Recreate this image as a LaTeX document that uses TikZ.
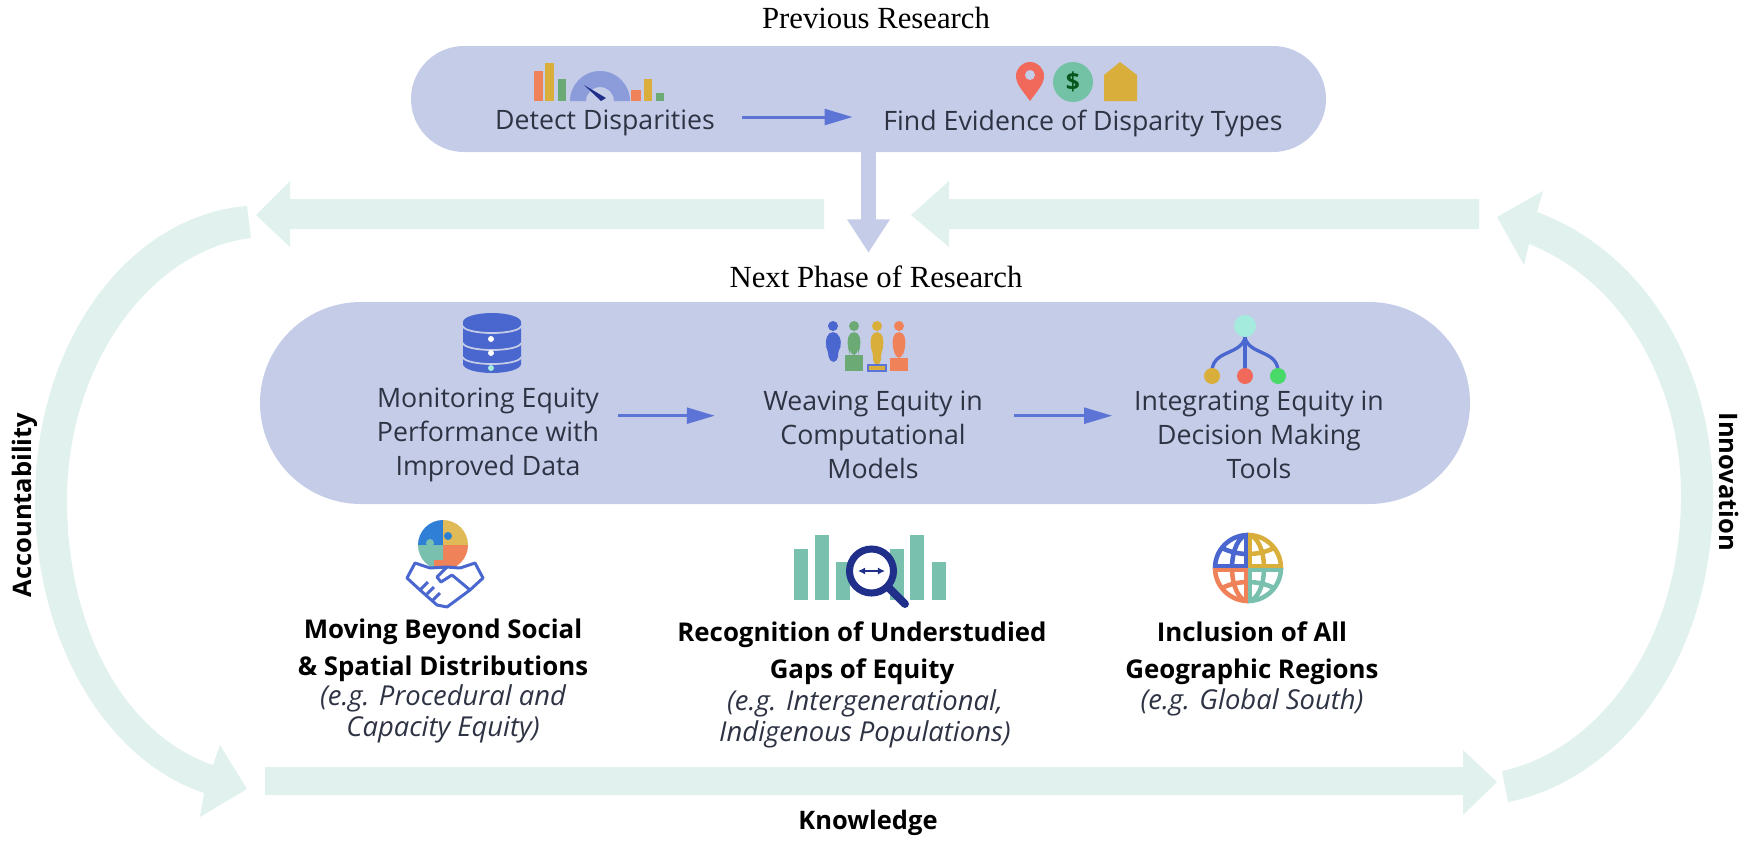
\documentclass[tikz,border=0pt]{standalone}
\usepackage{fontspec}
\setmainfont{Open Sans}
\newfontfamily\headfont{Liberation Serif}
\usetikzlibrary{arrows.meta,shapes.misc}

\definecolor{pillcol}{HTML}{C5CCE8}
\definecolor{palecol}{HTML}{E1F1EE}
\definecolor{flowcol}{HTML}{5B74D6}
\definecolor{textcol}{HTML}{2E3344}
\definecolor{icoblue}{HTML}{4A66CF}
\definecolor{iconavy}{HTML}{1F2F8A}
\definecolor{icogold}{HTML}{D9AE3A}
\definecolor{icoorange}{HTML}{F0825A}
\definecolor{icocoral}{HTML}{F0695A}
\definecolor{icogreen}{HTML}{6BAA75}
\definecolor{icoteal}{HTML}{79C0AE}
\definecolor{icomint}{HTML}{A5EBDD}
\definecolor{icocoin}{HTML}{74C2A5}
\definecolor{icopuzzle}{HTML}{2F7FD6}
\definecolor{icogauge}{HTML}{8C9BD9}

\newcommand{\pxu}{0.02cm} % one pixel of the reference

\tikzset{
  pillbox/.style={rounded rectangle, fill=pillcol, inner sep=0pt},
  headtext/.style={font=\headfont\fontsize{17.5}{20}\selectfont, text=black},
  pilltext/.style={font=\fontsize{15.2}{19.2}\selectfont, text=textcol, align=center},
  boldtext/.style={font=\fontsize{14.7}{21}\selectfont\bfseries, text=black, align=center},
  notetext/.style={font=\fontsize{15.6}{17.6}\selectfont\itshape, text=textcol, align=center},
  sidetext/.style={font=\fontsize{14.5}{16}\selectfont\bfseries, text=black},
  flowarrow/.style={-{Triangle[length=16pt,width=9pt]}, line width=1.7pt, flowcol},
  paleband/.style={fill=palecol},
}

\begin{document}
\begin{tikzpicture}[x=\pxu, y=-\pxu]
\useasboundingbox (0,0) rectangle (1750,842);

% pills
\node[pillbox, minimum width={915*\pxu}, minimum height={106*\pxu}] (prevpill) at (868.5,99) {};
\node[pillbox, minimum width={1210*\pxu}, minimum height={202*\pxu}] (nextpill) at (865,403) {};

% headings
\node[headtext] (prevhead) at (876,18) {Previous Research};
\node[headtext] (nexthead) at (876,277) {Next Phase of Research};

% pale arrows, top
\fill[paleband] (824,199) -- (290,199) -- (290,181) -- (256,215) -- (290,247) -- (290,229) -- (824,229) -- cycle;
\fill[paleband] (1479,199) -- (949,199) -- (949,181) -- (911,215) -- (949,247) -- (949,229) -- (1479,229) -- cycle;
% pale arrow, bottom
\fill[paleband] (265,767) -- (1463,767) -- (1463,750) -- (1497,782) -- (1463,815) -- (1463,795) -- (265,795) -- cycle;
% left bend
\fill[paleband] (247,206) .. controls (130,215) and (35,340) .. (35,500)
  .. controls (35,640) and (105,760) .. (204,793) -- (200,817) -- (247,789) -- (220,745) -- (213,765)
  .. controls (125,735) and (67,630) .. (67,500) .. controls (67,365) and (150,250) .. (251,238) -- cycle;
% right bend
\fill[paleband] (1508,802) .. controls (1620,780) and (1713,660) .. (1713,496)
  .. controls (1713,360) and (1640,250) .. (1537,212) -- (1543,191) -- (1497,217) -- (1524,265) -- (1529,244)
  .. controls (1620,280) and (1681,380) .. (1681,496) .. controls (1681,640) and (1600,750) .. (1502,771) -- cycle;

% down arrow
\draw[-{Triangle[length=19pt,width=23pt]}, line width=8pt, pillcol, shorten >=4pt] (prevpill.south) -- (prevpill.south |- nexthead.north);

% texts of upper pill
\node[pilltext] (detect) at (605,123) {Detect Disparities};
\node[pilltext] (evidence) at (1083,123) {Find Evidence of Disparity Types};
\draw[flowarrow, shorten <=12pt, shorten >=14pt] ([yshift=3.4pt]detect.east) -- ([yshift=3.4pt]evidence.west);

% texts of lower pill
\node[pilltext] (monitor) at (488,435) {Monitoring Equity\\Performance with\\Improved Data};
\node[pilltext] (weave) at (873,435) {Weaving Equity in\\Computational\\Models};
\node[pilltext] (integrate) at (1259,435) {Integrating Equity in\\Decision Making\\Tools};
\draw[flowarrow, shorten <=7pt, shorten >=24pt] ([yshift=11pt]monitor.east) -- ([yshift=11pt]weave.west);
\draw[flowarrow, shorten <=14pt, shorten >=9pt] ([yshift=11pt]weave.east) -- ([yshift=11pt]integrate.west);

% bold texts and notes
\node[boldtext] (beyond) at (443,650) {Moving Beyond Social\\\& Spatial Distributions};
\node[notetext] (beyondnote) at (443,714) {(e.g. Procedural and\\Capacity Equity)};
\node[boldtext] (gaps) at (862,653) {Recognition of Understudied\\Gaps of Equity};
\node[notetext] (gapsnote) at (865,719) {(e.g. Intergenerational,\\Indigenous Populations)};
\node[boldtext] (regions) at (1252,653) {Inclusion of All\\Geographic Regions};
\node[notetext] (regionsnote) at (1252,702) {(e.g. Global South)};

% side texts
\node[sidetext, rotate=90] (account) at (25,505) {Accountability};
\node[sidetext, rotate=-90] (innov) at (1729,482) {Innovation};
\node[sidetext] (know) at (868,823) {Knowledge};

% icon: bars and gauge
\foreach \xa/\xb/\ytop/\barcol in {534/542.5/71/icoorange, 545/554/63/icogold, 558/566/79/icogreen, 631/640.5/90/icoorange, 643.6/652/79/icogold, 656/664/93/icogreen}
  \fill[\barcol] (\xa,\ytop) rectangle (\xb,101);
\fill[icogauge] (630,101) arc[start angle=0, end angle=-180, radius=30] -- (586,101) arc[start angle=-180, end angle=0, radius=14] -- cycle;
\fill[iconavy] (584,85) -- (606,98) -- (601,101) -- cycle;

% icon: pin, coin, house
\fill[icocoral] (1030,101) .. controls (1022,90) and (1016,84) .. (1016,76) arc[start angle=180, end angle=360, radius=14] .. controls (1044,84) and (1038,90) .. (1030,101) -- cycle;
\fill[pillcol] (1030,75) circle[radius=5];
\fill[icocoin] (1073,82) circle[radius=20];
\node[font=\fontsize{14}{14}\selectfont\bfseries, text=iconavy!30!black!70!green] (dollar) at (1073,82) {\$};
\fill[icogold] (1104,101) -- (1104,75) -- (1120,62) -- (1137,75) -- (1137,101) -- cycle;

% icon: database
\fill[icoblue] (463,322) arc[start angle=180, end angle=360, x radius=29, y radius=9] -- (521,364) arc[start angle=0, end angle=180, x radius=29, y radius=9] -- cycle;
\foreach \ysep in {326,343,357}
  \draw[pillcol, line width=1pt] (463,\ysep) arc[start angle=180, end angle=0, x radius=29, y radius=7];
\foreach \ydot/\dotcol in {339/white, 353/white, 368/icomint}
  \fill[\dotcol] (491,\ydot) circle[radius=3];

% icon: people
\foreach \xp/\ybase/\wbase/\pcol in {854/355/9/icogreen, 899/358/9/icoorange, 877/365/9/icogold} {
  \fill[\pcol] (\xp,326) circle[radius=5];
  \fill[\pcol, rounded corners=3pt] (\xp-5,332) -- (\xp+5,332) -- (\xp+7,346) -- (\xp+4,352) -- (\xp+4,\ybase) -- (\xp-4,\ybase) -- (\xp-4,352) -- (\xp-7,346) -- cycle;
  \fill[\pcol] (\xp-\wbase,\ybase) rectangle (\xp+\wbase,371);
}
\draw[flowcol, line width=0.6pt] (868,365) rectangle (886,371);
\fill[icoblue] (833,326) circle[radius=5];
\fill[icoblue, rounded corners=3pt] (828,332) -- (838,332) -- (842,345) -- (838,350) -- (838,362) -- (829,362) -- (828,350) -- (825,345) -- cycle;

% icon: tree
\draw[icoblue, line width=1.9pt] (1245,336) -- (1245,370);
\draw[icoblue, line width=1.9pt] (1245,338) .. controls (1240,355) and (1214,350) .. (1212,370);
\draw[icoblue, line width=1.9pt] (1245,338) .. controls (1250,355) and (1276,350) .. (1278,370);
\fill[icomint] (1245,326) circle[radius=11];
\fill[icogold] (1212,376) circle[radius=8];
\fill[icocoral] (1245,376) circle[radius=8];
\fill[icoteal!60!green] (1278,376) circle[radius=8];

% icon: puzzle and handshake
\fill[icopuzzle] (443,545) -- (418,545) arc[start angle=180, end angle=270, radius=25] -- cycle;
\fill[icogold!85!white] (443,545) -- (443,520) arc[start angle=270, end angle=360, radius=25] -- cycle;
\fill[icoorange] (443,545) -- (468,545) arc[start angle=0, end angle=90, radius=25] -- cycle;
\fill[icoteal] (443,545) -- (443,570) arc[start angle=90, end angle=180, radius=25] -- cycle;
\fill[icopuzzle] (448,536) circle[radius=4];
\fill[icoteal] (430,543) circle[radius=4];
\fill[icoorange] (434,560) rectangle (443,567);
\draw[icoblue, line width=1.7pt, line join=round, fill=white] (415,563) -- (407,578) -- (420,590) -- (437,605) -- (447,607) -- (470,590) -- (483,578) -- (475,563) -- (460,568) -- (447,567) -- (430,568) -- cycle;
\draw[icoblue, line width=1.7pt, line join=round] (447,567) -- (437,577) -- (441,582) -- (452,575) -- (470,590);
\foreach \xf/\yf in {421/589, 427/594, 433/600}
  \draw[icoblue, line width=1.7pt] (\xf,\yf) -- (\xf+7,\yf-7);

% icon: bars and magnifier
\foreach \xa/\ytop in {794/549, 815/535, 836/562, 890/549, 910/535, 932/562}
  \fill[icoteal] (\xa,\ytop) rectangle (\xa+14,600);
\fill[white] (871.5,571) circle[radius=22];
\draw[iconavy, line width=4pt] (871.5,571) circle[radius=22];
\draw[iconavy, line width=4.5pt, line cap=round] (890,589) -- (905,604);
\draw[{Latex[length=4pt,width=4pt]}-{Latex[length=4pt,width=4pt]}, iconavy, line width=1pt] (858,571) -- (885,571);

% icon: globe
\foreach \qx/\qy/\gcol in {-1/-1/icoblue, 1/-1/icogold, -1/1/icoorange, 1/1/icoteal} {
  \begin{scope}
    \clip (1248,568) rectangle ++(\qx*40,\qy*40);
    \draw[\gcol, line width=2.6pt] (1248,568) circle[radius=33];
    \draw[\gcol, line width=2.6pt] (1248,568) ellipse[x radius=16, y radius=33];
    \draw[\gcol, line width=4.4pt] (1215,568) -- (1281,568) (1248,535) -- (1248,601);
    \draw[\gcol, line width=2.6pt] (1222,548) .. controls (1238,556) and (1258,556) .. (1274,548);
    \draw[\gcol, line width=2.6pt] (1222,588) .. controls (1238,580) and (1258,580) .. (1274,588);
  \end{scope}
}
\end{tikzpicture}
\end{document}
